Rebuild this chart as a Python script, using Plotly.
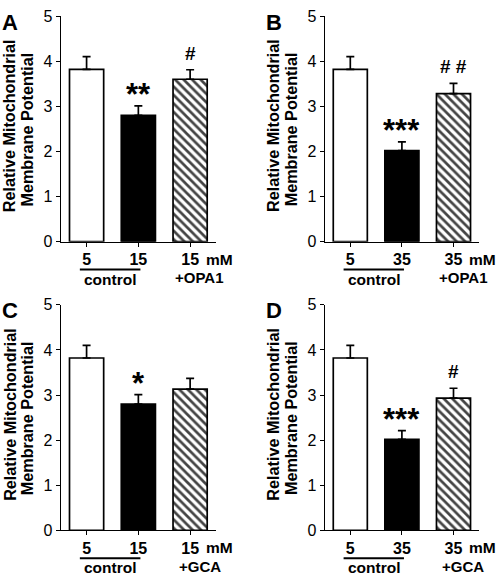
import plotly.graph_objects as go

W, H = 498, 582
FONT = "Liberation Sans, Arial, sans-serif"

panels = ["A", "B", "C", "D"]
tick_labels = {
    "A": ["5", "15", "15"],
    "B": ["5", "35", "35"],
    "C": ["5", "15", "15"],
    "D": ["5", "35", "35"],
}
treatment = {"A": "+OPA1", "B": "+OPA1", "C": "+GCA", "D": "+GCA"}
means = {
    "A": [3.82, 2.80, 3.60],
    "B": [3.82, 2.02, 3.28],
    "C": [3.82, 2.80, 3.13],
    "D": [3.82, 2.02, 2.93],
}
errors = {
    "A": [0.28, 0.21, 0.21],
    "B": [0.28, 0.19, 0.23],
    "C": [0.28, 0.21, 0.24],
    "D": [0.28, 0.19, 0.22],
}
stars = {
    "A": ["", "**", "#"],
    "B": ["", "***", "# #"],
    "C": ["", "*", ""],
    "D": ["", "***", "#"],
}

# panel geometry in pixels: (axis left, axis right, top(y=5), baseline(y=0))
geom = {
    "A": (60.7, 216.0, 8.3, 240.7),
    "B": (324.5, 479.3, 8.3, 240.7),
    "C": (60.7, 216.0, 305.7, 538.1),
    "D": (324.5, 479.3, 305.7, 538.1),
}
XR = [-0.5, 2.5]


def px(xp, yp):
    return xp / W, 1 - yp / H


fig = go.Figure()
annotations = []
shapes = []

for i, p in enumerate(panels):
    n = "" if i == 0 else str(i + 1)
    xa, ya = "x" + n, "y" + n
    L, R, T, B = geom[p]
    m = means[p]
    e = errors[p]
    fig.add_trace(go.Bar(
        x=[0, 1, 2], y=m, xaxis=xa, yaxis=ya, width=0.66,
        marker=dict(
            color=["white", "black", "white"],
            line=dict(color="black", width=1.7),
            pattern=dict(shape=["", "", "\\"], fgcolor="black",
                         fgopacity=1, size=6, solidity=0.45, fillmode="overlay"),
        ),
        error_y=dict(type="data", array=e, arrayminus=[0, 0, 0], symmetric=False,
                     color="black", thickness=1.7, width=4),
        showlegend=False, hoverinfo="skip",
    ))
    axx = dict(domain=[L / W, R / W], range=XR, showline=True, linecolor="black",
               linewidth=1, ticks="outside", ticklen=4, tickcolor="black",
               tickvals=[0, 1, 2], ticktext=tick_labels[p], showgrid=False,
               zeroline=False, anchor=ya, fixedrange=True, ticklabelstandoff=-1,
               tickfont=dict(family=FONT, size=16, color="black", weight="bold"))
    axy = dict(domain=[1 - B / H, 1 - T / H], range=[0, 5], showline=True,
               linecolor="black", linewidth=1, ticks="outside", ticklen=4,
               tickcolor="black", dtick=1, showgrid=False, zeroline=False,
               anchor=xa, fixedrange=True,
               tickfont=dict(family=FONT, size=16, color="black"))
    fig.update_layout(**{"xaxis" + n: axx, "yaxis" + n: axy})

    unit = (R - L) / (XR[1] - XR[0])

    def dx(v):
        return L + (v - XR[0]) * unit

    # panel letter
    x0, y0 = px(L - 50.7, T + 6.2)
    annotations.append(dict(text="<b>%s</b>" % p, x=x0, y=y0, xref="paper", yref="paper",
                            xanchor="center", yanchor="middle", showarrow=False,
                            font=dict(family=FONT, size=22, color="black")))
    # y title lines
    for txt, off, dy in (("Relative Mitochondrial", -51.5, -3), ("Membrane Potential", -34.0, 1)):
        xx, yy = px(L + off, (T + B) / 2 + dy)
        annotations.append(dict(text="<b>%s</b>" % txt, x=xx, y=yy, xref="paper", yref="paper",
                                xanchor="center", yanchor="middle", textangle=-90,
                                showarrow=False, font=dict(family=FONT, size=16.2, color="black")))
    # mM
    xx, yy = px(dx(2.57), B + 18)
    annotations.append(dict(text="<b>mM</b>", x=xx, y=yy, xref="paper", yref="paper",
                            xanchor="center", yanchor="middle", showarrow=False,
                            font=dict(family=FONT, size=15.5, color="black")))
    # control
    xx, yy = px(dx(0.46), B + 38.5)
    annotations.append(dict(text="<b>control</b>", x=xx, y=yy, xref="paper", yref="paper",
                            xanchor="center", yanchor="middle", showarrow=False,
                            font=dict(family=FONT, size=15.5, color="black")))
    xx, yy = px(dx(2.19), B + 37)
    annotations.append(dict(text="<b>%s</b>" % treatment[p], x=xx, y=yy, xref="paper", yref="paper",
                            xanchor="center", yanchor="middle", showarrow=False,
                            font=dict(family=FONT, size=15, color="black")))
    xa0, ya0 = px(dx(-0.13), B + 28.6)
    xa1, _ = px(dx(1.04), B + 28.6)
    shapes.append(dict(type="line", xref="paper", yref="paper", x0=xa0, x1=xa1, y0=ya0, y1=ya0,
                       line=dict(color="black", width=2)))
    # significance marks
    for k, s in enumerate(stars[p]):
        if not s:
            continue
        if "*" in s:
            size, shift = 31, -8
        else:
            size, shift = 19, 4
        annotations.append(dict(text="<b>%s</b>" % s, x=k, y=m[k] + e[k], xref=xa, yref=ya,
                                xanchor="center", yanchor="bottom", yshift=shift,
                                showarrow=False,
                                font=dict(family=FONT, size=size, color="black")))

fig.update_layout(width=W, height=H, margin=dict(l=0, r=0, t=0, b=0),
                  paper_bgcolor="white", plot_bgcolor="white",
                  annotations=annotations, shapes=shapes,
                  font=dict(family=FONT, color="black"))

fig.write_html("out.html", config={"displayModeBar": False},
               post_script="document.body.style.margin='0';document.body.style.padding='0';")
